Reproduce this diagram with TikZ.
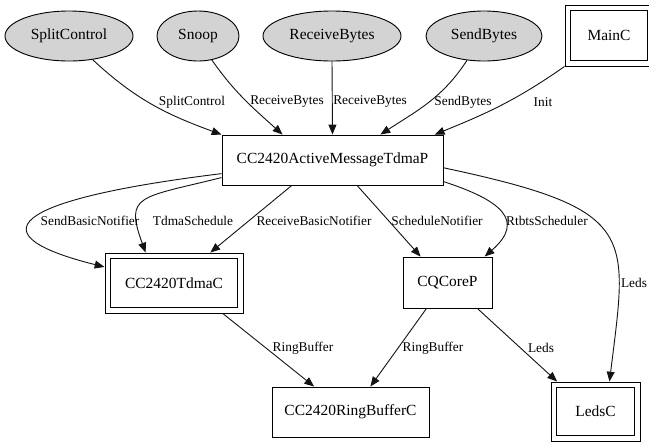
\documentclass[tikz,border=0pt]{standalone}
\usepackage{fontspec}
\setmainfont{Liberation Serif}
\usepackage{tikz}
\usetikzlibrary{arrows.meta,shapes,positioning}
\usepackage{xcolor}
\definecolor{ifgray}{RGB}{211,211,211}
\definecolor{edgeblack}{RGB}{20,20,20}
\tikzstyle{iface} = [draw, ellipse, fill=ifgray, inner sep=0pt, minimum height=1.25cm, line width=0.65pt, font=\fontsize{11}{13}\selectfont]
\tikzstyle{comp} = [draw, rectangle, inner sep=0pt, minimum height=1.25cm, line width=0.65pt, font=\fontsize{11}{13}\selectfont]
\tikzstyle{config} = [comp, append after command={\pgfextra{\draw[line width=0.65pt] ([shift={(0.15cm,-0.15cm)}]\tikzlastnode.north west) rectangle ([shift={(-0.15cm,0.15cm)}]\tikzlastnode.south east);}}]
\tikzstyle{link} = [line width=0.65pt, color=edgeblack, -{Triangle[length=7pt,width=5.6pt]}]
\tikzstyle{lbl} = [inner sep=0pt, font=\fontsize{9.5}{11}\selectfont]

\begin{document}
\begin{tikzpicture}[x=0.025cm, y=0.025cm]
\useasboundingbox (0,0) rectangle (649,-443);
% Interfaces
\node[iface, minimum width=3.2cm] (split) at (69,-36) {SplitControl};
\node[iface, minimum width=2.05cm] (snoop) at (198,-36) {Snoop};
\node[iface, minimum width=3.45cm] (recv) at (332,-36) {ReceiveBytes};
\node[iface, minimum width=2.9cm] (send) at (484,-36) {SendBytes};
\node[config, minimum width=2.2cm, minimum height=1.525cm] (mainc) at (609,-35.5) {MainC};

% Components
\node[comp, minimum width=5.525cm] (am) at (332.5,-160) {CC2420ActiveMessageTdmaP};
\node[config, minimum width=3.45cm, minimum height=1.5cm] (tdma) at (174,-283) {CC2420TdmaC};
\node[comp, minimum width=2.225cm, minimum height=1.275cm] (cq) at (447.5,-282.5) {CQCoreP};
\node[comp, minimum width=3.925cm] (ring) at (350.5,-412) {CC2420RingBufferC};
\node[config, minimum width=2.225cm, minimum height=1.475cm] (leds) at (595.5,-411.5) {LedsC};

% Upper edges
\draw[link] (split.-45) to[out=-43, in=160] (am.north west);
\draw[link] (snoop.-60) to[out=-55, in=138] (am.153);
\draw[link] (recv.south) -- (am.north);
\draw[link] (send.-125) to[out=-123, in=33] (am.28);
\draw[link] (mainc.south west) to[out=-145, in=22] (am.14);

\node[lbl] (lsplit) at (192,-102) {SplitControl};
\node[lbl] (lsnoop) at (287,-102) {ReceiveBytes};
\node[lbl] (lrecv) at (370,-102) {ReceiveBytes};
\node[lbl] (lsend) at (463,-102) {SendBytes};
\node[lbl] (linit) at (543,-102) {Init};

% Lower edges
\draw[link] (am.187) .. controls +(187:220) and +(166:130) .. (tdma.167);
\draw[link] (am.189) .. controls +(194:85) and +(110:62) .. (tdma.133);
\draw[link] (am.212) -- (tdma.40);
\draw[link] (am.-46) -- (cq.136);
\draw[link] (am.-11) .. controls +(-18:60) and +(41:55) .. (cq.35);
\draw[link] (am.-4) .. controls +(-12:200) and +(83:150) .. (leds.65);
\draw[link] (tdma.-32) -- (ring.145);
\draw[link] (cq.231) -- (ring.52);
\draw[link] (cq.-41) -- (leds.142);

\node[lbl] (lsbn) at (90,-221) {SendBasicNotifier};
\node[lbl] (ltdma) at (193,-221) {TdmaSchedule};
\node[lbl] (lrbn) at (314,-221) {ReceiveBasicNotifier};
\node[lbl] (lsched) at (437,-221) {ScheduleNotifier};
\node[lbl] (lrtbts) at (547,-221) {RtbtsScheduler};
\node[lbl] (lleds) at (634,-283) {Leds};
\node[lbl] (lring1) at (303,-348) {RingBuffer};
\node[lbl] (lring2) at (433,-348) {RingBuffer};
\node[lbl] (lleds2) at (541,-348) {Leds};
\end{tikzpicture}
\end{document}
